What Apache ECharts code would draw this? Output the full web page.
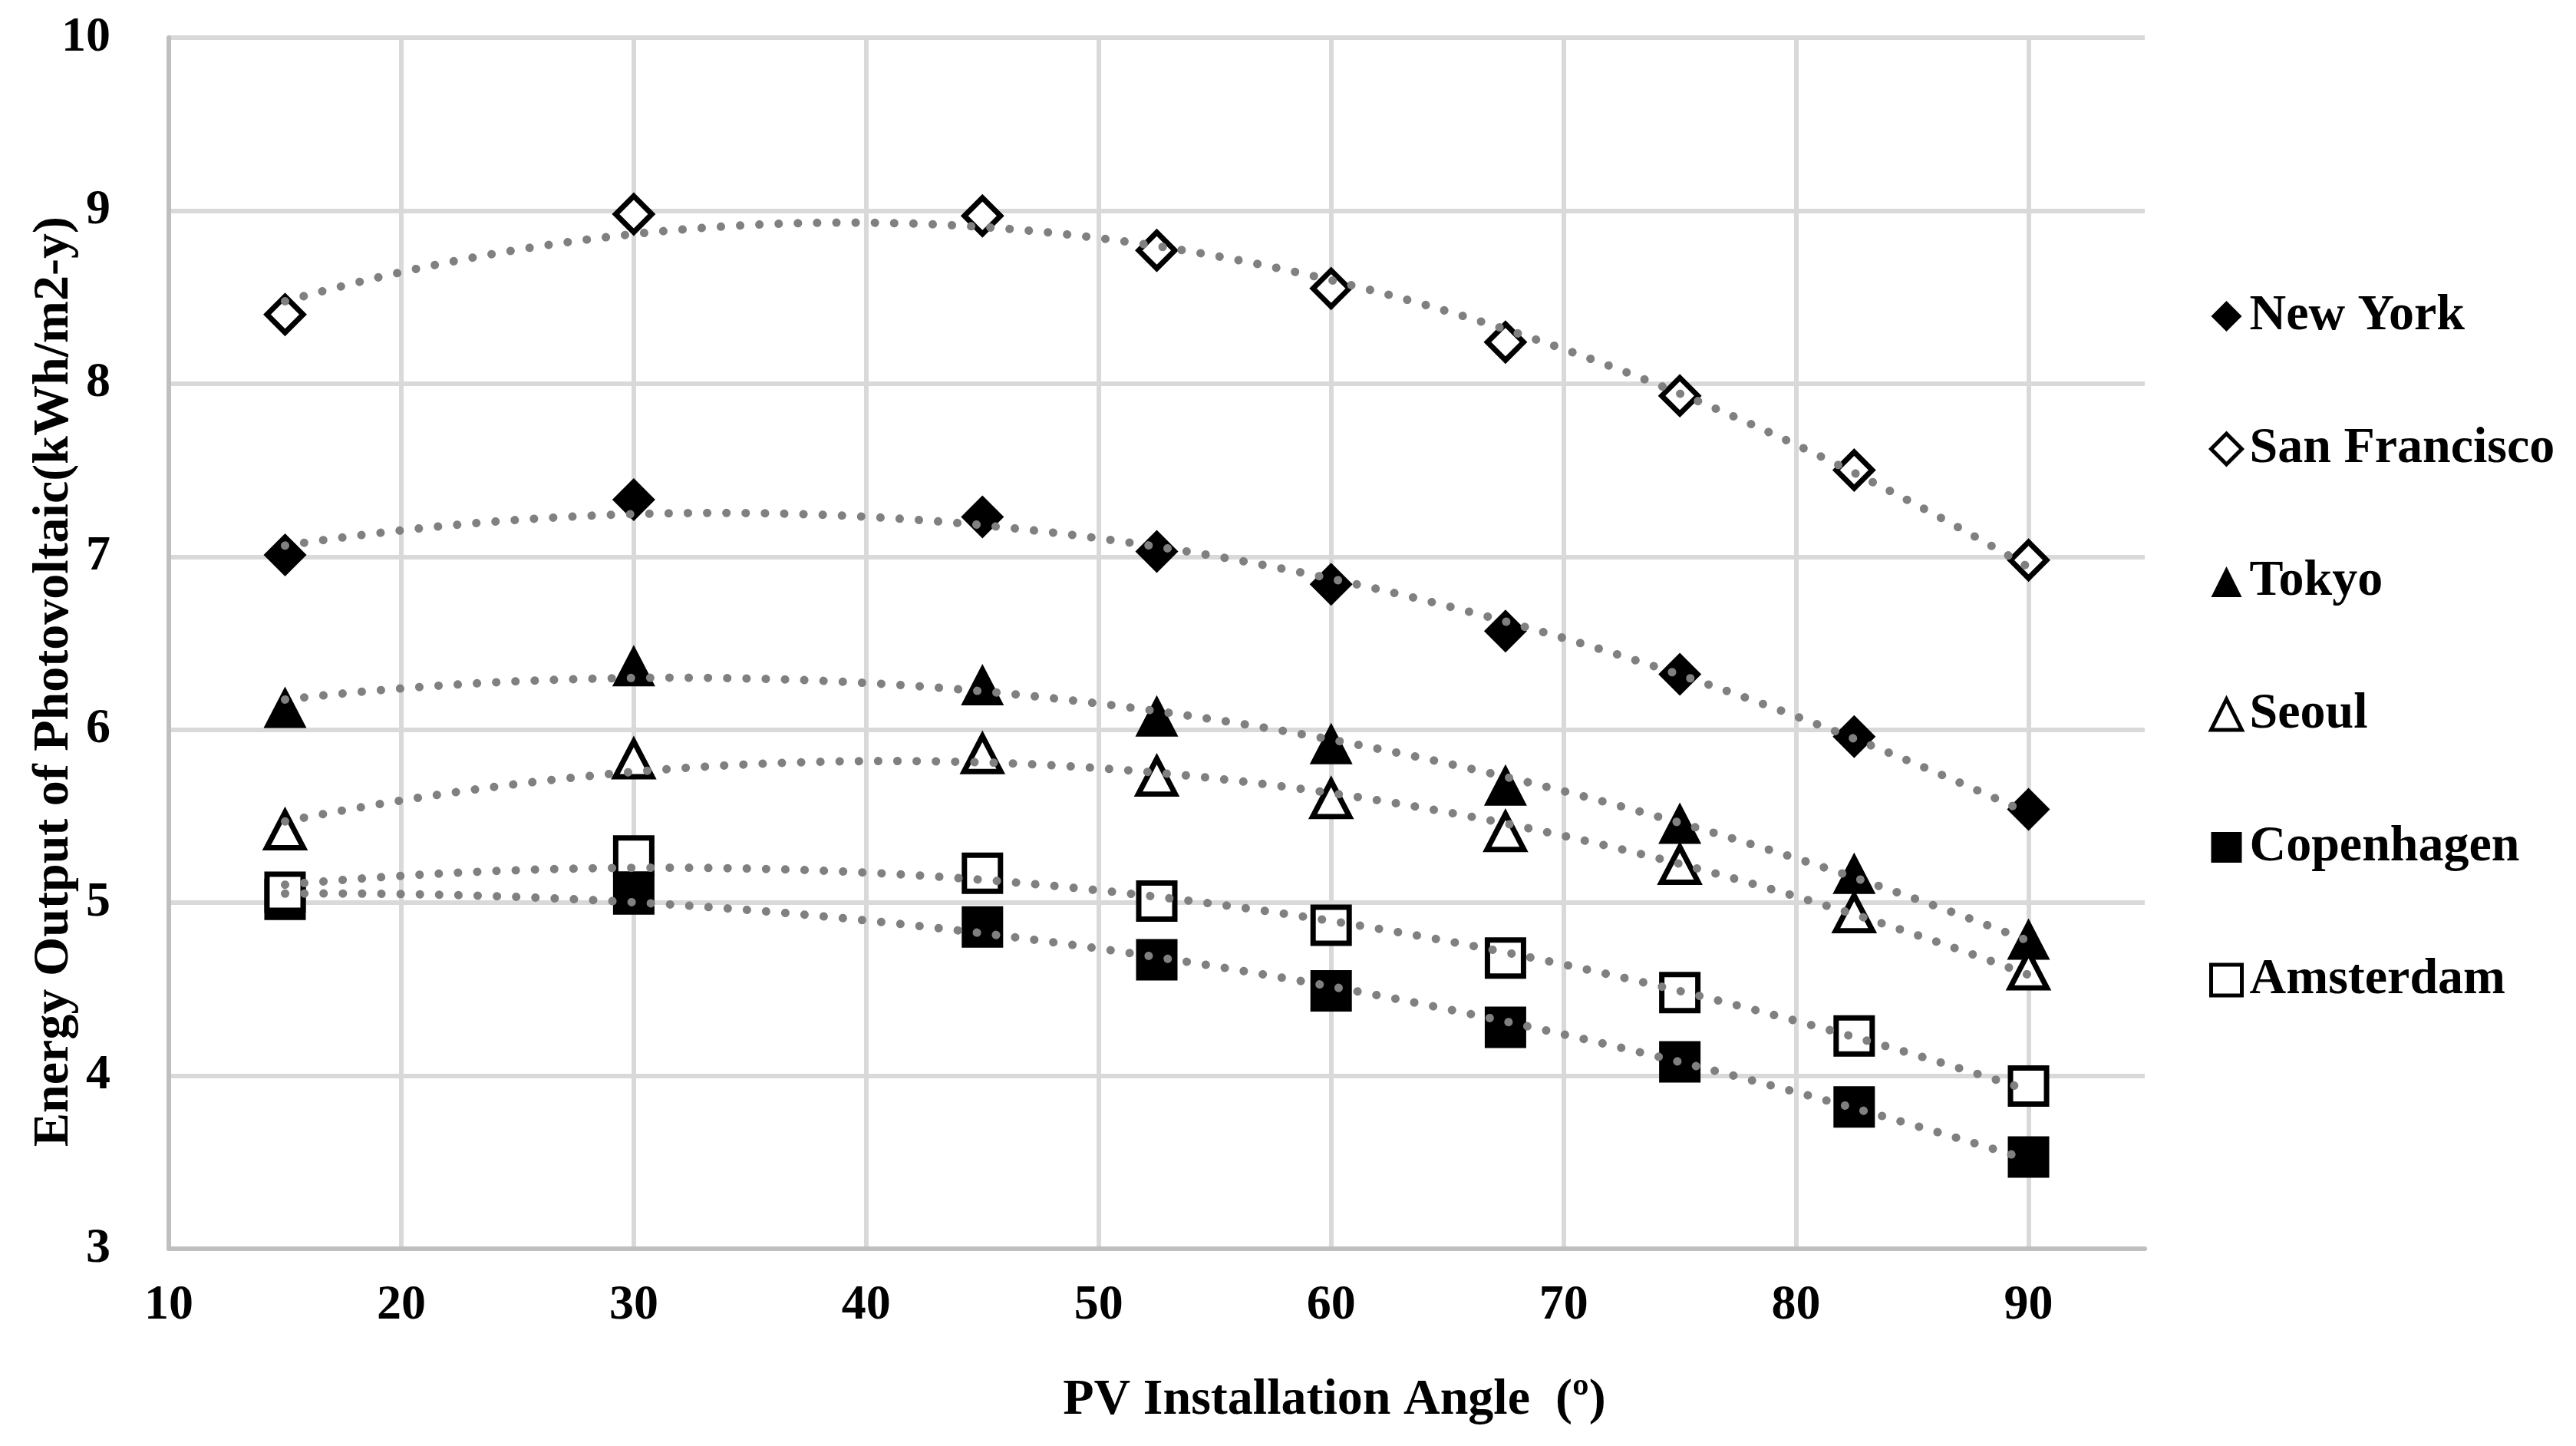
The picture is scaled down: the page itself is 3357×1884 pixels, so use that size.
<!DOCTYPE html>
<html><head><meta charset="utf-8">
<script src="https://cdn.jsdelivr.net/npm/echarts@6/dist/echarts.min.js"></script>
<style>html,body{margin:0;padding:0;background:#fff}#c{width:3357px;height:1884px}</style>
</head><body><div id="c"></div>
<script>
const angles = [15, 30, 45, 52.5, 60, 67.5, 75, 82.5, 90];
const newYork = [7.01, 7.33, 7.23, 7.03, 6.84, 6.57, 6.32, 5.96, 5.54];
const sanFrancisco = [8.40, 8.98, 8.97, 8.77, 8.55, 8.24, 7.93, 7.50, 6.98];
const tokyo = [6.13, 6.37, 6.26, 6.08, 5.92, 5.68, 5.46, 5.17, 4.79];
const seoul = [5.42, 5.83, 5.86, 5.73, 5.60, 5.41, 5.22, 4.94, 4.61];
const copenhagen = [5.02, 5.05, 4.86, 4.67, 4.49, 4.28, 4.08, 3.82, 3.53];
const amsterdam = [5.06, 5.27, 5.17, 5.01, 4.87, 4.68, 4.48, 4.23, 3.94];
const seriesNames = ['New York', 'San Francisco', 'Tokyo', 'Seoul', 'Copenhagen', 'Amsterdam'];
const xAxisTitle = 'PV Installation Angle  (º)';
const yAxisTitle = 'Energy Output of Photovoltaic(kWh/m2-y)';

const FONT = '"Liberation Serif", "Times New Roman", serif';

// quadratic least-squares trendline (like Excel polynomial trendline) computed from the data
function polyFit(xs, ys) {
  const n = xs.length;
  const S = [0,0,0,0,0], T = [0,0,0];
  for (let i = 0; i < n; i++) {
    let p = 1;
    for (let k = 0; k < 5; k++) { S[k] += p; p *= xs[i]; }
    p = 1;
    for (let k = 0; k < 3; k++) { T[k] += ys[i] * p; p *= xs[i]; }
  }
  const A = [[S[0],S[1],S[2],T[0]],[S[1],S[2],S[3],T[1]],[S[2],S[3],S[4],T[2]]];
  for (let c = 0; c < 3; c++) {
    let piv = c;
    for (let r = c+1; r < 3; r++) if (Math.abs(A[r][c]) > Math.abs(A[piv][c])) piv = r;
    [A[c], A[piv]] = [A[piv], A[c]];
    for (let r = 0; r < 3; r++) {
      if (r === c) continue;
      const f = A[r][c] / A[c][c];
      for (let k = c; k < 4; k++) A[r][k] -= f * A[c][k];
    }
  }
  const coef = [A[0][3]/A[0][0], A[1][3]/A[1][1], A[2][3]/A[2][2]];
  const pts = [];
  const x0 = xs[0], x1 = xs[xs.length-1];
  const steps = 150;
  for (let i = 0; i <= steps; i++) {
    const x = x0 + (x1 - x0) * i / steps;
    pts.push([x, coef[0] + coef[1]*x + coef[2]*x*x]);
  }
  return pts;
}

const dataSets = [newYork, sanFrancisco, tokyo, seoul, copenhagen, amsterdam];
const symbols = [
  {symbol: 'diamond', size: [56, 56], fill: '#000', border: 0, legendBorder: 0},
  {symbol: 'diamond', size: [47, 47], fill: '#fff', border: 7, legendBorder: 5},
  {symbol: 'triangle', size: [56, 54], fill: '#000', border: 0, legendBorder: 0},
  {symbol: 'triangle', size: [48, 46], fill: '#fff', border: 7, legendBorder: 5},
  {symbol: 'rect', size: [54, 54], fill: '#000', border: 0, legendBorder: 0},
  {symbol: 'rect', size: [47, 47], fill: '#fff', border: 7, legendBorder: 5}
];

const series = [];
dataSets.forEach((ys, i) => {
  const s = symbols[i];
  series.push({
    name: seriesNames[i],
    type: 'scatter',
    symbol: s.symbol,
    symbolSize: s.size,
    data: angles.map((x, j) => [x, ys[j]]),
    itemStyle: {color: s.fill, borderColor: '#000', borderWidth: s.border, opacity: 1},
    z: 3
  });
});
dataSets.forEach((ys, i) => {
  series.push({
    name: seriesNames[i] + ' trend',
    type: 'line',
    showSymbol: false,
    symbol: 'none',
    silent: true,
    data: polyFit(angles, ys),
    lineStyle: {color: '#808080', width: 11, type: [0.1, 25], cap: 'round', opacity: 1},
    z: 5
  });
});

const chart = echarts.init(document.getElementById('c'), null, {renderer: 'canvas'});
chart.setOption({
  animation: false,
  backgroundColor: '#fff',
  grid: {left: 220, right: 562, top: 49, bottom: 257, containLabel: false},
  xAxis: {
    type: 'value', min: 10, max: 95, interval: 10,
    axisLine: {show: true, onZero: false, lineStyle: {color: '#bfbfbf', width: 6}},
    axisTick: {show: false},
    axisLabel: {fontFamily: FONT, fontWeight: 'bold', fontSize: 64, color: '#000', margin: 42, showMaxLabel: false},
    splitLine: {show: true, showMaxLine: false, lineStyle: {color: '#d9d9d9', width: 6}}
  },
  yAxis: {
    type: 'value', min: 3, max: 10, interval: 1,
    axisLine: {show: true, onZero: false, lineStyle: {color: '#bfbfbf', width: 6}},
    axisTick: {show: false},
    axisLabel: {fontFamily: FONT, fontWeight: 'bold', fontSize: 64, color: '#000', margin: 76},
    splitLine: {show: true, lineStyle: {color: '#d9d9d9', width: 6}}
  },
  legend: {
    orient: 'vertical', left: 2874, top: 372,
    itemWidth: 40, itemHeight: 40, itemGap: 103,
    data: seriesNames.map((n, i) => ({
      name: n,
      itemStyle: {color: symbols[i].fill, borderColor: '#000', borderWidth: symbols[i].legendBorder, opacity: 1}
    })),
    textStyle: {fontFamily: FONT, fontWeight: 'bold', fontSize: 66, lineHeight: 70, color: '#000', padding: [0, 0, 0, 5]}
  },
  graphic: [
    {type: 'text', x: 71, y: 888, rotation: Math.PI / 2,
     style: {text: yAxisTitle, font: 'bold 66px ' + FONT, fill: '#000', textAlign: 'center', textVerticalAlign: 'middle'}},
    {type: 'text', x: 1739, y: 1825,
     style: {text: xAxisTitle, font: 'bold 66px ' + FONT, fill: '#000', textAlign: 'center', textVerticalAlign: 'middle'}}
  ],
  series: series
});
</script>
</body></html>
